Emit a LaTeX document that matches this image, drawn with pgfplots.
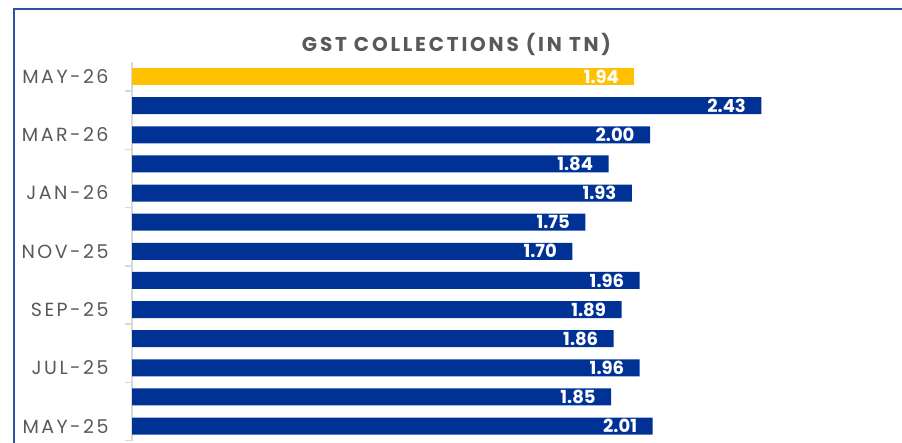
\documentclass[border=0pt]{standalone}
\usepackage{pgfplots}
\pgfplotsset{compat=1.18}
\usepackage{fontspec}
\setmainfont{Poppins}
\newfontfamily\lblfont[LetterSpace=13]{Poppins}
\newfontfamily\titlefont[LetterSpace=14]{Poppins}
\definecolor{barblue}{RGB}{0,50,150}
\definecolor{baryellow}{RGB}{255,192,0}
\definecolor{txtgray}{RGB}{89,89,89}
\definecolor{frameblue}{RGB}{47,82,165}
\definecolor{axgray}{RGB}{217,217,217}
\begin{document}
\begin{tikzpicture}[x=1pt,y=1pt]
\useasboundingbox (0,0) rectangle (902,442);
\clip (0,0) rectangle (902,442);
\draw[frameblue, line width=2pt] (13.5,-30) -- (13.5,433) -- (940,433);
\node[font=\titlefont\bfseries\fontsize{20}{24}\selectfont, text=txtgray, anchor=base] at (456.5,390.3) {GST COLLECTIONS (IN TN)};
\begin{axis}[at={(132pt,1.4pt)}, anchor=south west, scale only axis,
  width=777pt, height=378.6pt, xmin=0, xmax=3, ymin=-0.5, ymax=12.5,
  xbar, bar width=17pt,
  hide x axis, axis y line*=left,
  y axis line style={-, draw=axgray, line width=1.5pt},
  ytick={0,2,...,12},
  yticklabels={MAY-25,JUL-25,SEP-25,NOV-25,JAN-26,MAR-26,MAY-26},
  major tick length=0pt,
  yticklabel style={font=\lblfont\fontsize{19}{22}\selectfont, text=txtgray, xshift=-20pt},
  extra y ticks={-0.5,1.5,3.5,5.5,7.5,9.5,11.5},
  extra y tick labels={},
  extra y tick style={major tick length=7pt, tick align=outside, tick style={draw=axgray, line width=1.5pt}},
  nodes near coords, point meta=x,
  nodes near coords style={anchor=east, xshift=-12pt, text=white, font=\bfseries\fontsize{18}{20}\selectfont,
    /pgf/number format/.cd, fixed, fixed zerofill, precision=2, assume math mode=true},
  clip=false]
\addplot[fill=barblue, draw=none, bar shift=0pt] coordinates {
(2.01,0) (1.85,1) (1.96,2) (1.86,3) (1.89,4) (1.96,5) (1.70,6) (1.75,7) (1.93,8) (1.84,9) (2.00,10) (2.43,11)};
\addplot[fill=baryellow, draw=none, bar shift=0pt] coordinates {(1.94,12)};
\end{axis}
\end{tikzpicture}
\end{document}
